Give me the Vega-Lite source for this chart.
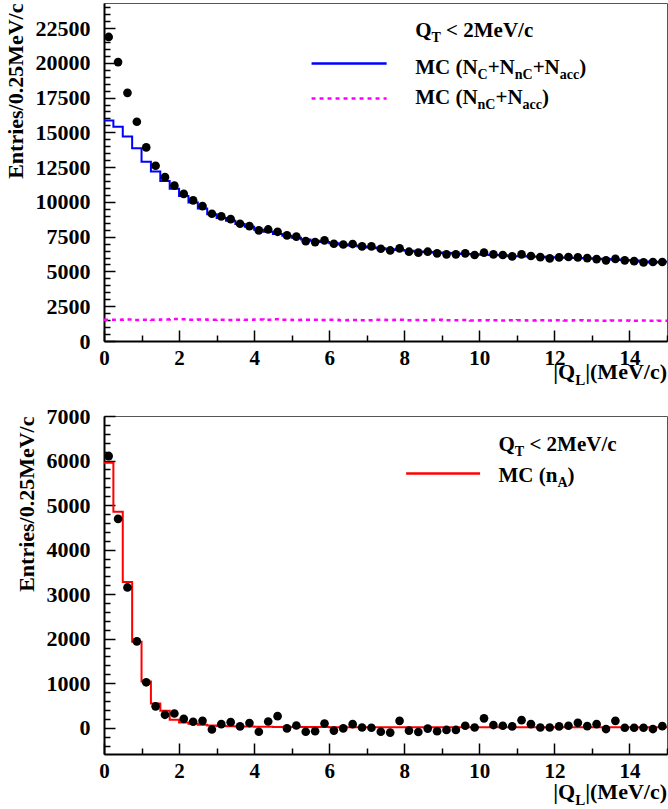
{
  "$schema": "https://vega.github.io/schema/vega-lite/v6.json",
  "padding": {"left": 3, "top": 2, "right": 1, "bottom": 5},
  "spacing": 75,
  "bounds": "flush",
  "background": "white",
  "config": {
    "font": "Liberation Serif",
    "view": {"stroke": "#555", "strokeWidth": 1},
    "text": {"font": "Liberation Serif", "fontWeight": "bold", "color": "black", "baseline": "alphabetic"},
    "axis": {
      "grid": false,
      "domainColor": "black",
      "domainWidth": 2,
      "tickColor": "black",
      "tickWidth": 1.5,
      "labelFont": "Liberation Serif",
      "labelFontWeight": "bold",
      "labelColor": "black",
      "labelOverlap": false,
      "labelFlush": false,
      "titleFont": "Liberation Serif",
      "titleFontWeight": "bold",
      "titleFontSize": 22,
      "titleColor": "black"
    }
  },
  "datasets": {
    "one": [{"k": 1}],
    "topPts": [
      {"x": 0.125, "y": 21860}, {"x": 0.375, "y": 20050}, {"x": 0.625, "y": 17840}, {"x": 0.875, "y": 15760},
      {"x": 1.125, "y": 13920}, {"x": 1.375, "y": 12600}, {"x": 1.625, "y": 11780}, {"x": 1.875, "y": 11170},
      {"x": 2.125, "y": 10580}, {"x": 2.375, "y": 10110}, {"x": 2.625, "y": 9700}, {"x": 2.875, "y": 9150},
      {"x": 3.125, "y": 8960}, {"x": 3.375, "y": 8760}, {"x": 3.625, "y": 8430}, {"x": 3.875, "y": 8260},
      {"x": 4.125, "y": 7950}, {"x": 4.375, "y": 8020}, {"x": 4.625, "y": 7850}, {"x": 4.875, "y": 7590},
      {"x": 5.125, "y": 7500}, {"x": 5.375, "y": 7180}, {"x": 5.625, "y": 7110}, {"x": 5.875, "y": 7230},
      {"x": 6.125, "y": 6990}, {"x": 6.375, "y": 6940}, {"x": 6.625, "y": 6970}, {"x": 6.875, "y": 6800},
      {"x": 7.125, "y": 6800}, {"x": 7.375, "y": 6630}, {"x": 7.625, "y": 6510}, {"x": 7.875, "y": 6660},
      {"x": 8.125, "y": 6420}, {"x": 8.375, "y": 6350}, {"x": 8.625, "y": 6420}, {"x": 8.875, "y": 6300},
      {"x": 9.125, "y": 6230}, {"x": 9.375, "y": 6230}, {"x": 9.625, "y": 6300}, {"x": 9.875, "y": 6180},
      {"x": 10.125, "y": 6350}, {"x": 10.375, "y": 6230}, {"x": 10.625, "y": 6180}, {"x": 10.875, "y": 6080},
      {"x": 11.125, "y": 6230}, {"x": 11.375, "y": 6110}, {"x": 11.625, "y": 6030}, {"x": 11.875, "y": 5940},
      {"x": 12.125, "y": 6010}, {"x": 12.375, "y": 6040}, {"x": 12.625, "y": 6010}, {"x": 12.875, "y": 5960},
      {"x": 13.125, "y": 5890}, {"x": 13.375, "y": 5800}, {"x": 13.625, "y": 5900}, {"x": 13.875, "y": 5800},
      {"x": 14.125, "y": 5740}, {"x": 14.375, "y": 5650}, {"x": 14.625, "y": 5680}, {"x": 14.875, "y": 5680}
    ],
    "mcAll": [
      {"x": 0, "y": 15850}, {"x": 0.25, "y": 15400}, {"x": 0.5, "y": 14700}, {"x": 0.75, "y": 13850},
      {"x": 1.0, "y": 12880}, {"x": 1.25, "y": 12190}, {"x": 1.5, "y": 11500}, {"x": 1.75, "y": 10950},
      {"x": 2.0, "y": 10420}, {"x": 2.25, "y": 9950}, {"x": 2.5, "y": 9520}, {"x": 2.75, "y": 9120},
      {"x": 3.0, "y": 8850}, {"x": 3.25, "y": 8650}, {"x": 3.5, "y": 8420}, {"x": 3.75, "y": 8220},
      {"x": 4.0, "y": 8000}, {"x": 4.25, "y": 7850}, {"x": 4.5, "y": 7700}, {"x": 4.75, "y": 7560},
      {"x": 5.0, "y": 7430}, {"x": 5.25, "y": 7300}, {"x": 5.5, "y": 7200}, {"x": 5.75, "y": 7110},
      {"x": 6.0, "y": 7020}, {"x": 6.25, "y": 6940}, {"x": 6.5, "y": 6870}, {"x": 6.75, "y": 6800},
      {"x": 7.0, "y": 6730}, {"x": 7.25, "y": 6660}, {"x": 7.5, "y": 6600}, {"x": 7.75, "y": 6540},
      {"x": 8.0, "y": 6490}, {"x": 8.25, "y": 6440}, {"x": 8.5, "y": 6400}, {"x": 8.75, "y": 6360},
      {"x": 9.0, "y": 6320}, {"x": 9.25, "y": 6290}, {"x": 9.5, "y": 6260}, {"x": 9.75, "y": 6230},
      {"x": 10.0, "y": 6200}, {"x": 10.25, "y": 6180}, {"x": 10.5, "y": 6160}, {"x": 10.75, "y": 6100},
      {"x": 11.0, "y": 6090}, {"x": 11.25, "y": 6070}, {"x": 11.5, "y": 6050}, {"x": 11.75, "y": 6030},
      {"x": 12.0, "y": 6010}, {"x": 12.25, "y": 5990}, {"x": 12.5, "y": 5970}, {"x": 12.75, "y": 5950},
      {"x": 13.0, "y": 5920}, {"x": 13.25, "y": 5890}, {"x": 13.5, "y": 5860}, {"x": 13.75, "y": 5830},
      {"x": 14.0, "y": 5790}, {"x": 14.25, "y": 5720}, {"x": 14.5, "y": 5650}, {"x": 14.75, "y": 5700},
      {"x": 15.0, "y": 5700}
    ],
    "mcBg": [
      {"x": 0, "y": 1530}, {"x": 0.25, "y": 1520}, {"x": 0.5, "y": 1540}, {"x": 0.75, "y": 1510},
      {"x": 1.0, "y": 1530}, {"x": 1.25, "y": 1520}, {"x": 1.5, "y": 1550}, {"x": 1.75, "y": 1580},
      {"x": 2.0, "y": 1560}, {"x": 2.25, "y": 1530}, {"x": 2.5, "y": 1540}, {"x": 2.75, "y": 1520},
      {"x": 3.0, "y": 1530}, {"x": 3.25, "y": 1510}, {"x": 3.5, "y": 1530}, {"x": 3.75, "y": 1520},
      {"x": 4.0, "y": 1540}, {"x": 4.25, "y": 1520}, {"x": 4.5, "y": 1560}, {"x": 4.75, "y": 1530},
      {"x": 5.0, "y": 1510}, {"x": 5.25, "y": 1520}, {"x": 5.5, "y": 1530}, {"x": 5.75, "y": 1510},
      {"x": 6.0, "y": 1520}, {"x": 6.25, "y": 1500}, {"x": 6.5, "y": 1510}, {"x": 6.75, "y": 1490},
      {"x": 7.0, "y": 1500}, {"x": 7.25, "y": 1520}, {"x": 7.5, "y": 1510}, {"x": 7.75, "y": 1530},
      {"x": 8.0, "y": 1500}, {"x": 8.25, "y": 1510}, {"x": 8.5, "y": 1500}, {"x": 8.75, "y": 1520},
      {"x": 9.0, "y": 1490}, {"x": 9.25, "y": 1500}, {"x": 9.5, "y": 1510}, {"x": 9.75, "y": 1480},
      {"x": 10.0, "y": 1500}, {"x": 10.25, "y": 1490}, {"x": 10.5, "y": 1470}, {"x": 10.75, "y": 1490},
      {"x": 11.0, "y": 1500}, {"x": 11.25, "y": 1480}, {"x": 11.5, "y": 1490}, {"x": 11.75, "y": 1470},
      {"x": 12.0, "y": 1490}, {"x": 12.25, "y": 1480}, {"x": 12.5, "y": 1500}, {"x": 12.75, "y": 1470},
      {"x": 13.0, "y": 1480}, {"x": 13.25, "y": 1460}, {"x": 13.5, "y": 1480}, {"x": 13.75, "y": 1470},
      {"x": 14.0, "y": 1460}, {"x": 14.25, "y": 1470}, {"x": 14.5, "y": 1450}, {"x": 14.75, "y": 1460},
      {"x": 15.0, "y": 1460}
    ],
    "botPts": [
      {"x": 0.125, "y": 6100}, {"x": 0.375, "y": 4690}, {"x": 0.625, "y": 3150}, {"x": 0.875, "y": 1940},
      {"x": 1.125, "y": 1020}, {"x": 1.375, "y": 480}, {"x": 1.625, "y": 290}, {"x": 1.875, "y": 320},
      {"x": 2.125, "y": 200}, {"x": 2.375, "y": 135}, {"x": 2.625, "y": 155}, {"x": 2.875, "y": -40},
      {"x": 3.125, "y": 80}, {"x": 3.375, "y": 125}, {"x": 3.625, "y": 30}, {"x": 3.875, "y": 105},
      {"x": 4.125, "y": -90}, {"x": 4.375, "y": 140}, {"x": 4.625, "y": 260}, {"x": 4.875, "y": -15},
      {"x": 5.125, "y": 50}, {"x": 5.375, "y": -90}, {"x": 5.625, "y": -80}, {"x": 5.875, "y": 95},
      {"x": 6.125, "y": -65}, {"x": 6.375, "y": -15}, {"x": 6.625, "y": 80}, {"x": 6.875, "y": 5},
      {"x": 7.125, "y": 0}, {"x": 7.375, "y": -90}, {"x": 7.625, "y": -110}, {"x": 7.875, "y": 155},
      {"x": 8.125, "y": -65}, {"x": 8.375, "y": -95}, {"x": 8.625, "y": -20}, {"x": 8.875, "y": -80},
      {"x": 9.125, "y": -50}, {"x": 9.375, "y": -50}, {"x": 9.625, "y": 45}, {"x": 9.875, "y": 5},
      {"x": 10.125, "y": 210}, {"x": 10.375, "y": 60}, {"x": 10.625, "y": 45}, {"x": 10.875, "y": 30},
      {"x": 11.125, "y": 170}, {"x": 11.375, "y": 80}, {"x": 11.625, "y": 5}, {"x": 11.875, "y": 5},
      {"x": 12.125, "y": 30}, {"x": 12.375, "y": 45}, {"x": 12.625, "y": 110}, {"x": 12.875, "y": 35},
      {"x": 13.125, "y": 80}, {"x": 13.375, "y": -30}, {"x": 13.625, "y": 155}, {"x": 13.875, "y": 0},
      {"x": 14.125, "y": 0}, {"x": 14.375, "y": 0}, {"x": 14.625, "y": -30}, {"x": 14.875, "y": 35}
    ],
    "mcA": [
      {"x": 0, "y": 5950}, {"x": 0.25, "y": 4850}, {"x": 0.5, "y": 3270}, {"x": 0.75, "y": 1930},
      {"x": 1.0, "y": 1040}, {"x": 1.25, "y": 545}, {"x": 1.5, "y": 380}, {"x": 1.75, "y": 180},
      {"x": 2.0, "y": 120}, {"x": 2.25, "y": 90}, {"x": 2.5, "y": 65}, {"x": 2.75, "y": 50},
      {"x": 3.0, "y": 40}, {"x": 3.25, "y": 35}, {"x": 3.5, "y": 30}, {"x": 3.75, "y": 25},
      {"x": 4.0, "y": 22}, {"x": 4.25, "y": 20}, {"x": 4.5, "y": 18}, {"x": 4.75, "y": 16},
      {"x": 5.0, "y": 15}, {"x": 5.5, "y": 14}, {"x": 6.0, "y": 13}, {"x": 6.5, "y": 12},
      {"x": 7.0, "y": 12}, {"x": 8.0, "y": 11}, {"x": 9.0, "y": 10}, {"x": 10.0, "y": 10},
      {"x": 11.0, "y": 9}, {"x": 12.0, "y": 9}, {"x": 13.0, "y": 8}, {"x": 14.0, "y": 8},
      {"x": 15.0, "y": 8}
    ]
  },
  "vconcat": [
    {
      "width": 563,
      "height": 338,
      "resolve": {"axis": {"x": "independent", "y": "independent"}},
      "layer": [
        {
          "data": {"name": "mcBg"},
          "mark": {"type": "line", "interpolate": "step-after", "color": "#ff00ff", "strokeWidth": 2.5, "strokeDash": [4, 4]},
          "encoding": {
            "x": {"field": "x", "type": "quantitative", "scale": {"domain": [0, 15], "nice": false},
              "axis": {"title": null, "format": "d", "values": [0,0.5,1,1.5,2,2.5,3,3.5,4,4.5,5,5.5,6,6.5,7,7.5,8,8.5,9,9.5,10,10.5,11,11.5,12,12.5,13,13.5,14,14.5,15],
                "labelExpr": "datum.value % 2 === 0 ? datum.label : ''",
                "labelFontSize": {"condition": {"test": "datum.value % 2 === 0", "value": 21}, "value": 0},
                "tickSize": {"condition": {"test": "datum.value % 2 === 0", "value": -11}, "value": -6},
                "labelPadding": 17}},
            "y": {"field": "y", "type": "quantitative", "scale": {"domain": [0, 24300], "nice": false},
              "axis": {"title": "Entries/0.25MeV/c", "titleAnchor": "end", "titlePadding": 8, "format": "d",
                "values": [0,500,1000,1500,2000,2500,3000,3500,4000,4500,5000,5500,6000,6500,7000,7500,8000,8500,9000,9500,10000,10500,11000,11500,12000,12500,13000,13500,14000,14500,15000,15500,16000,16500,17000,17500,18000,18500,19000,19500,20000,20500,21000,21500,22000,22500,23000,23500,24000],
                "labelExpr": "datum.value % 2500 === 0 ? datum.label : ''",
                "labelFontSize": {"condition": {"test": "datum.value % 2500 === 0", "value": 22}, "value": 0},
                "tickSize": {"condition": {"test": "datum.value % 2500 === 0", "value": -11}, "value": -6},
                "labelPadding": 25}}
          }
        },
        {
          "data": {"name": "mcAll"},
          "mark": {"type": "line", "interpolate": "step-after", "color": "#0000ff", "strokeWidth": 2},
          "encoding": {
            "x": {"field": "x", "type": "quantitative", "axis": null},
            "y": {"field": "y", "type": "quantitative", "axis": null}
          }
        },
        {
          "data": {"name": "topPts"},
          "mark": {"type": "point", "filled": true, "color": "black", "opacity": 1, "size": 75},
          "encoding": {
            "x": {"field": "x", "type": "quantitative", "axis": null},
            "y": {"field": "y", "type": "quantitative", "axis": null}
          }
        },
        {
          "data": {"name": "one"},
          "mark": {"type": "rule", "color": "#0000ff", "strokeWidth": 2.5},
          "encoding": {
            "x": {"datum": 5.53, "type": "quantitative", "axis": null}, "x2": {"datum": 7.53},
            "y": {"datum": 19950, "type": "quantitative", "axis": null}
          }
        },
        {
          "data": {"name": "one"},
          "mark": {"type": "rule", "color": "#ff00ff", "strokeWidth": 2.5, "strokeDash": [4, 4]},
          "encoding": {
            "x": {"datum": 5.53, "type": "quantitative", "axis": null}, "x2": {"datum": 7.53},
            "y": {"datum": 17440, "type": "quantitative", "axis": null}
          }
        },
        {
          "data": {"name": "one"},
          "encoding": {
            "x": {"datum": 8.29, "type": "quantitative", "axis": null},
            "y": {"datum": 21839, "type": "quantitative", "axis": null}
          },
          "layer": [
            {"mark": {"type": "text", "align": "left", "fontSize": 21, "dx": 0, "text": "Q"}},
            {"mark": {"type": "text", "align": "left", "fontSize": 14, "dx": 16.3, "dy": 5, "text": "T"}},
            {"mark": {"type": "text", "align": "left", "fontSize": 21, "dx": 30.9, "text": "< 2MeV/c"}}
          ]
        },
        {
          "data": {"name": "one"},
          "encoding": {
            "x": {"datum": 8.29, "type": "quantitative", "axis": null},
            "y": {"datum": 19204, "type": "quantitative", "axis": null}
          },
          "layer": [
            {"mark": {"type": "text", "align": "left", "fontSize": 21, "dx": 0, "text": "MC (N"}},
            {"mark": {"type": "text", "align": "left", "fontSize": 14, "dx": 62.4, "dy": 5, "text": "C"}},
            {"mark": {"type": "text", "align": "left", "fontSize": 21, "dx": 72.5, "text": "+N"}},
            {"mark": {"type": "text", "align": "left", "fontSize": 14, "dx": 99.6, "dy": 5, "text": "nC"}},
            {"mark": {"type": "text", "align": "left", "fontSize": 21, "dx": 117.5, "text": "+N"}},
            {"mark": {"type": "text", "align": "left", "fontSize": 14, "dx": 144.6, "dy": 5, "text": "acc"}},
            {"mark": {"type": "text", "align": "left", "fontSize": 21, "dx": 164.0, "text": ")"}}
          ]
        },
        {
          "data": {"name": "one"},
          "encoding": {
            "x": {"datum": 8.29, "type": "quantitative", "axis": null},
            "y": {"datum": 17004, "type": "quantitative", "axis": null}
          },
          "layer": [
            {"mark": {"type": "text", "align": "left", "fontSize": 21, "dx": 0, "text": "MC (N"}},
            {"mark": {"type": "text", "align": "left", "fontSize": 14, "dx": 62.4, "dy": 5, "text": "nC"}},
            {"mark": {"type": "text", "align": "left", "fontSize": 21, "dx": 80.3, "text": "+N"}},
            {"mark": {"type": "text", "align": "left", "fontSize": 14, "dx": 107.4, "dy": 5, "text": "acc"}},
            {"mark": {"type": "text", "align": "left", "fontSize": 21, "dx": 126.8, "text": ")"}}
          ]
        },
        {
          "data": {"name": "one"},
          "encoding": {
            "x": {"datum": 15, "type": "quantitative", "axis": null},
            "y": {"datum": -2730, "type": "quantitative", "axis": null}
          },
          "layer": [
            {"mark": {"type": "text", "align": "right", "fontSize": 22, "dx": -91.8, "text": "|Q"}},
            {"mark": {"type": "text", "align": "right", "fontSize": 15, "dx": -81.8, "dy": 6, "text": "L"}},
            {"mark": {"type": "text", "align": "right", "fontSize": 22, "dx": 0, "text": "|(MeV/c)"}}
          ]
        }
      ]
    },
    {
      "width": 563,
      "height": 338,
      "resolve": {"axis": {"x": "independent", "y": "independent"}},
      "layer": [
        {
          "data": {"name": "mcA"},
          "mark": {"type": "line", "interpolate": "step-after", "color": "#ff0000", "strokeWidth": 2},
          "encoding": {
            "x": {"field": "x", "type": "quantitative", "scale": {"domain": [0, 15], "nice": false},
              "axis": {"title": null, "format": "d", "values": [0,0.5,1,1.5,2,2.5,3,3.5,4,4.5,5,5.5,6,6.5,7,7.5,8,8.5,9,9.5,10,10.5,11,11.5,12,12.5,13,13.5,14,14.5,15],
                "labelExpr": "datum.value % 2 === 0 ? datum.label : ''",
                "labelFontSize": {"condition": {"test": "datum.value % 2 === 0", "value": 21}, "value": 0},
                "tickSize": {"condition": {"test": "datum.value % 2 === 0", "value": -11}, "value": -6},
                "labelPadding": 17}},
            "y": {"field": "y", "type": "quantitative", "scale": {"domain": [-590, 7000], "nice": false},
              "axis": {"title": "Entries/0.25MeV/c", "titleAnchor": "end", "titlePadding": 8, "format": "d",
                "values": [-400,-200,0,200,400,600,800,1000,1200,1400,1600,1800,2000,2200,2400,2600,2800,3000,3200,3400,3600,3800,4000,4200,4400,4600,4800,5000,5200,5400,5600,5800,6000,6200,6400,6600,6800,7000],
                "labelExpr": "datum.value % 1000 === 0 ? datum.label : ''",
                "labelFontSize": {"condition": {"test": "datum.value % 1000 === 0", "value": 22}, "value": 0},
                "tickSize": {"condition": {"test": "datum.value % 1000 === 0", "value": -11}, "value": -6},
                "labelPadding": 25}}
          }
        },
        {
          "data": {"name": "botPts"},
          "mark": {"type": "point", "filled": true, "color": "black", "opacity": 1, "size": 75},
          "encoding": {
            "x": {"field": "x", "type": "quantitative", "axis": null},
            "y": {"field": "y", "type": "quantitative", "axis": null}
          }
        },
        {
          "data": {"name": "one"},
          "mark": {"type": "rule", "color": "#ff0000", "strokeWidth": 2.5},
          "encoding": {
            "x": {"datum": 8.05, "type": "quantitative", "axis": null}, "x2": {"datum": 10.02},
            "y": {"datum": 5711, "type": "quantitative", "axis": null}
          }
        },
        {
          "data": {"name": "one"},
          "encoding": {
            "x": {"datum": 10.51, "type": "quantitative", "axis": null},
            "y": {"datum": 6211, "type": "quantitative", "axis": null}
          },
          "layer": [
            {"mark": {"type": "text", "align": "left", "fontSize": 21, "dx": 0, "text": "Q"}},
            {"mark": {"type": "text", "align": "left", "fontSize": 14, "dx": 16.3, "dy": 5, "text": "T"}},
            {"mark": {"type": "text", "align": "left", "fontSize": 21, "dx": 30.9, "text": "< 2MeV/c"}}
          ]
        },
        {
          "data": {"name": "one"},
          "encoding": {
            "x": {"datum": 10.51, "type": "quantitative", "axis": null},
            "y": {"datum": 5516, "type": "quantitative", "axis": null}
          },
          "layer": [
            {"mark": {"type": "text", "align": "left", "fontSize": 21, "dx": 0, "text": "MC (n"}},
            {"mark": {"type": "text", "align": "left", "fontSize": 14, "dx": 58.9, "dy": 5, "text": "A"}},
            {"mark": {"type": "text", "align": "left", "fontSize": 21, "dx": 69.0, "text": ")"}}
          ]
        },
        {
          "data": {"name": "one"},
          "encoding": {
            "x": {"datum": 15, "type": "quantitative", "axis": null},
            "y": {"datum": -1600, "type": "quantitative", "axis": null}
          },
          "layer": [
            {"mark": {"type": "text", "align": "right", "fontSize": 22, "dx": -91.8, "text": "|Q"}},
            {"mark": {"type": "text", "align": "right", "fontSize": 15, "dx": -81.8, "dy": 6, "text": "L"}},
            {"mark": {"type": "text", "align": "right", "fontSize": 22, "dx": 0, "text": "|(MeV/c)"}}
          ]
        }
      ]
    }
  ]
}
